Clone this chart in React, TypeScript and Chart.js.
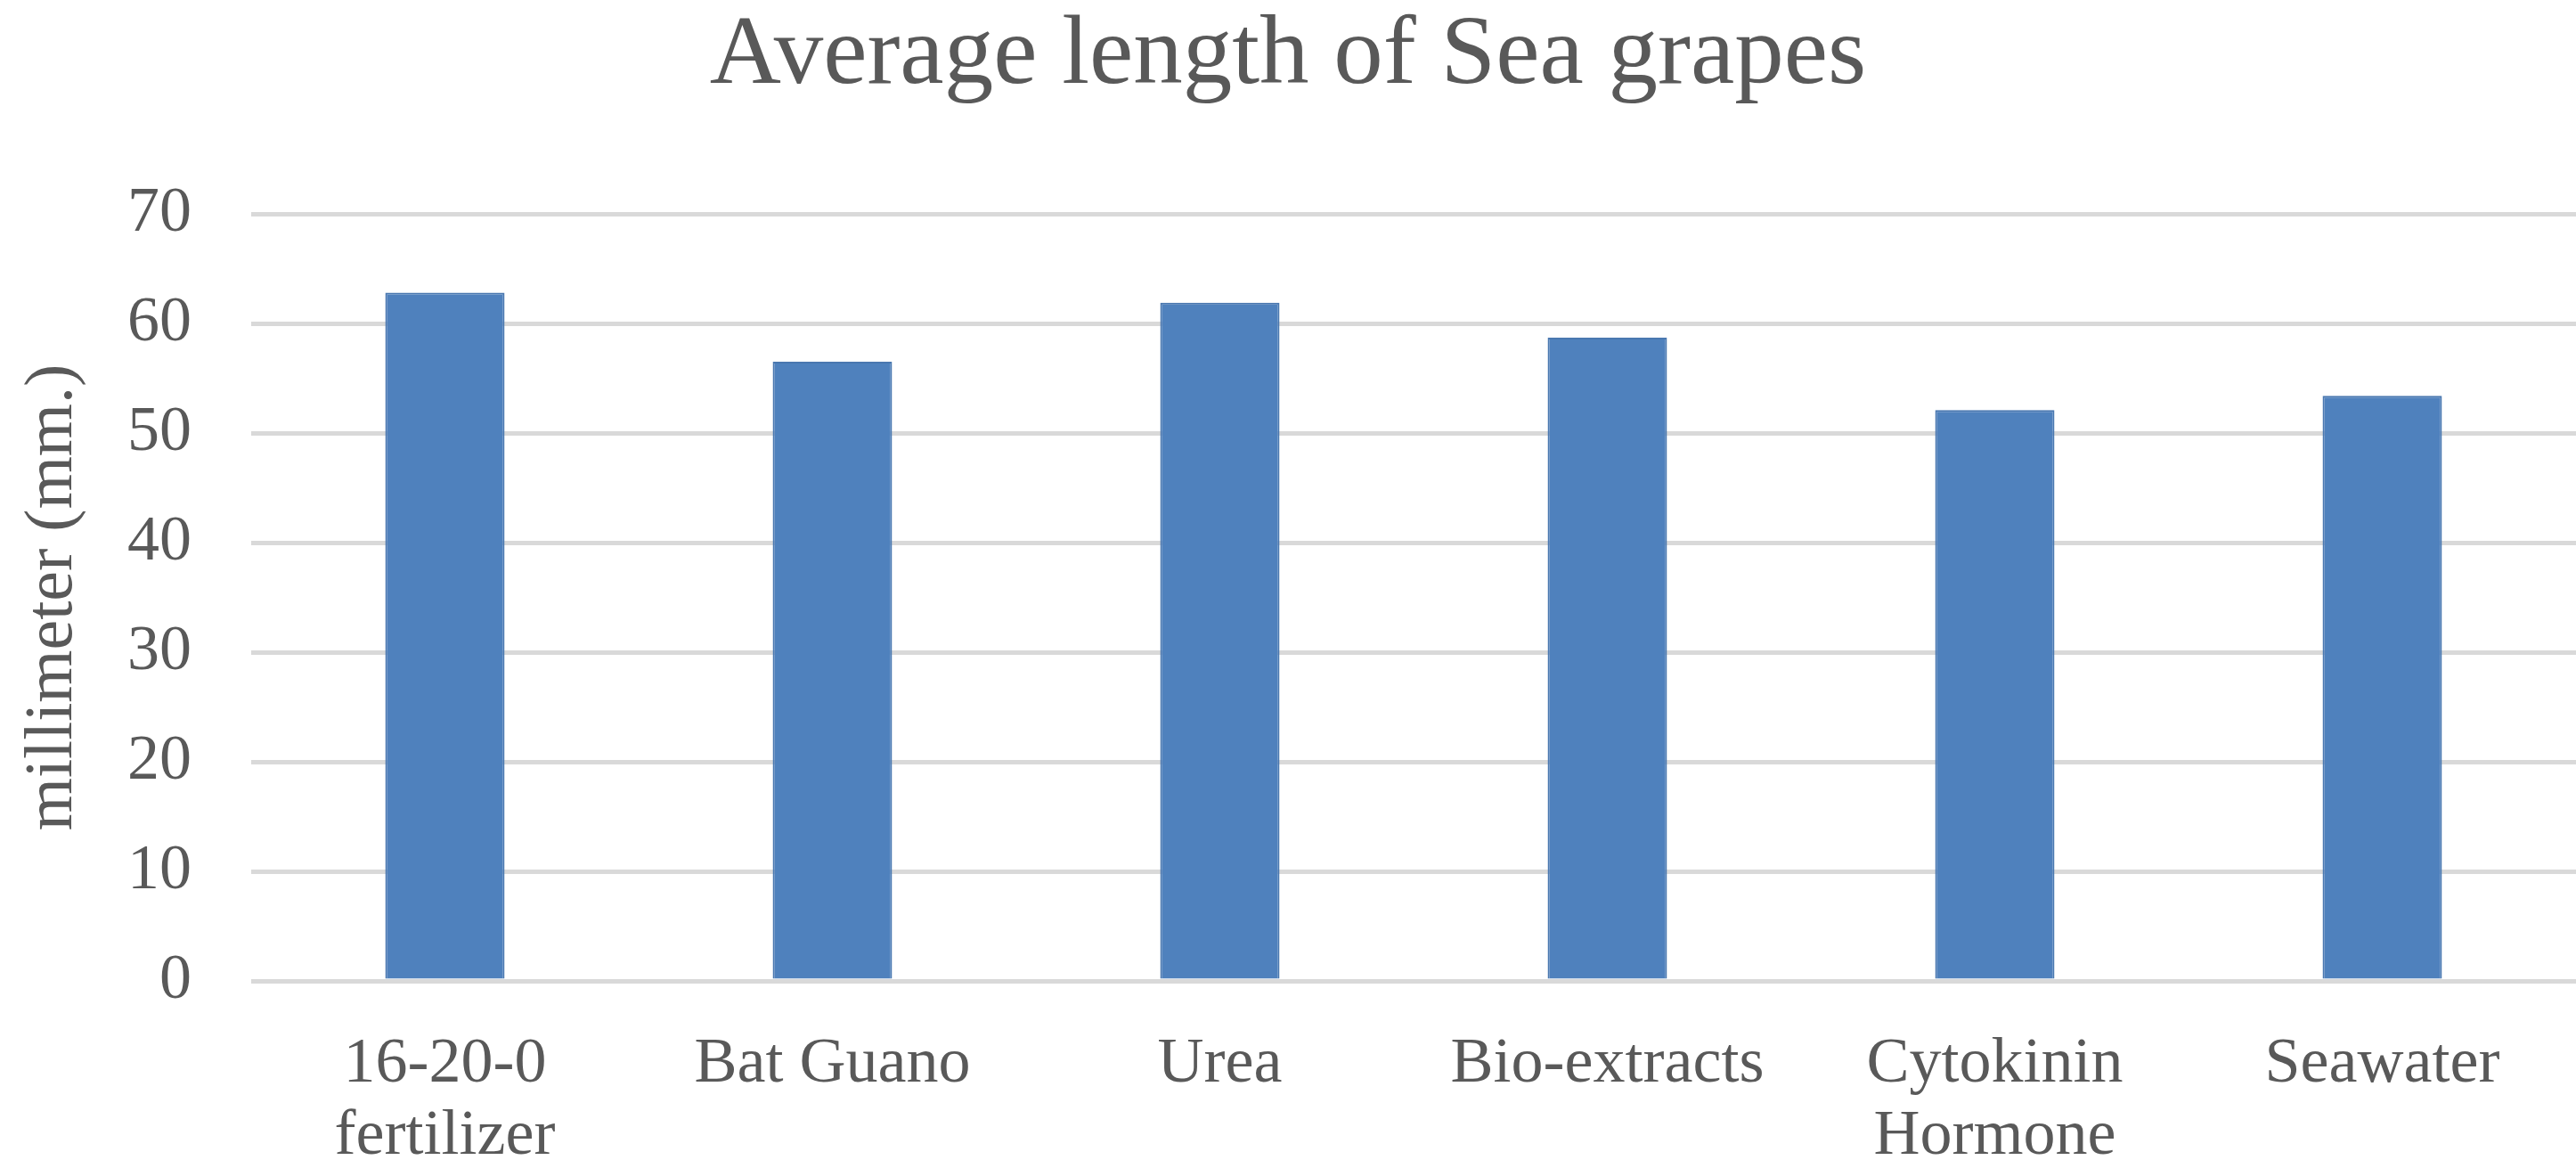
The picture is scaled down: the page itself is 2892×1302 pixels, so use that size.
import React, { useEffect, useRef } from "react";
import { Chart, registerables } from "chart.js";

Chart.register(...registerables);

const categories: (string | string[])[] = [
  ["16-20-0", "fertilizer"],
  "Bat Guano",
  "Urea",
  "Bio-extracts",
  ["Cytokinin", "Hormone"],
  "Seawater",
];
const averageLength: number[] = [62.8, 56.5, 61.9, 58.7, 52.1, 53.4];
const yTicks: number[] = [0, 10, 20, 30, 40, 50, 60, 70];

const chartTitle = "Average length of Sea grapes";
const yAxisTitle = "millimeter (mm.)";

const FONT = "'Liberation Serif', 'DejaVu Serif', serif";
const TEXT = "#595959";

export default function App() {
  const ref = useRef<HTMLCanvasElement | null>(null);

  useEffect(() => {
    document.body.style.margin = "0";
    const canvas = ref.current;
    if (!canvas) return;
    const chart = new Chart(canvas, {
      type: "bar",
      data: {
        labels: categories,
        datasets: [
          {
            data: averageLength,
            backgroundColor: "#4f81bd",
            borderColor: "#4a78b0",
            borderWidth: 2,
            categoryPercentage: 1,
            barPercentage: 0.308,
          },
        ],
      },
      options: {
        responsive: false,
        animation: false,
        devicePixelRatio: 1,
        layout: { padding: 0 },
        plugins: {
          legend: { display: false },
          tooltip: { enabled: false },
          title: {
            display: true,
            text: chartTitle,
            color: TEXT,
            font: { family: FONT, size: 111, weight: "normal", lineHeight: 1.0 },
            padding: { top: 8, bottom: 121 },
          },
        },
        scales: {
          x: {
            grid: { display: false, drawTicks: false },
            border: { display: false },
            ticks: {
              color: TEXT,
              font: { family: FONT, size: 72, lineHeight: 1.12 },
              padding: 54,
              maxRotation: 0,
              autoSkip: false,
            },
            afterFit: (scale: any) => {
              scale.height = 201;
            },
          },
          y: {
            min: 0,
            max: 70,
            afterBuildTicks: (scale: any) => {
              scale.ticks = yTicks.map((v) => ({ value: v }));
            },
            grid: { color: "#d9d9d9", lineWidth: 5, drawTicks: false },
            border: { display: false },
            ticks: {
              color: TEXT,
              font: { family: FONT, size: 72, lineHeight: 1.2 },
              padding: 67,
            },
            title: {
              display: true,
              text: yAxisTitle,
              color: TEXT,
              font: { family: FONT, size: 76, lineHeight: 1.2 },
              padding: { top: 14, bottom: 0 },
            },
            afterFit: (scale: any) => {
              scale.width = 282;
            },
          },
        },
      },
    });
    return () => chart.destroy();
  }, []);

  return (
    <div style={{ width: 2892, height: 1302, background: "#ffffff" }}>
      <canvas ref={ref} width={2892} height={1302} style={{ display: "block", width: 2892, height: 1302 }} />
    </div>
  );
}
